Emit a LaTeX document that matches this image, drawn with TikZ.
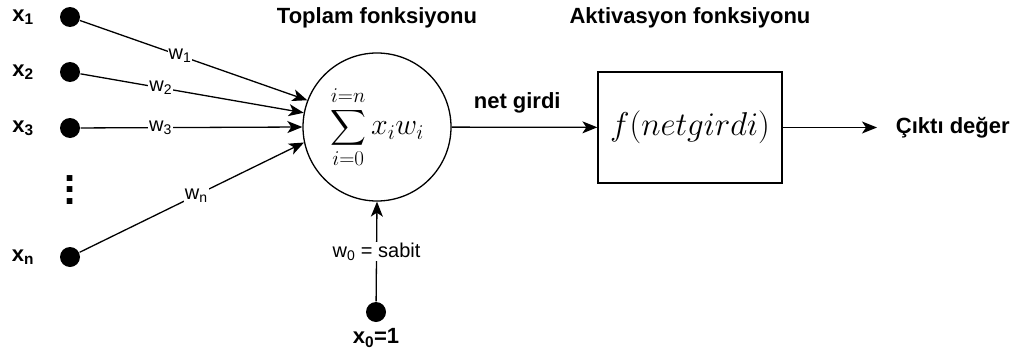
\RequirePackage{fix-cm}
\documentclass[tikz,border=0pt]{standalone}
\usepackage{amsmath}
\usepackage{fontspec}
\setmainfont{Liberation Sans}
\usetikzlibrary{arrows.meta}

\begin{document}
\begin{tikzpicture}[x=1pt,y=-1pt,>={Stealth[length=15pt,width=12pt,inset=4pt]},line width=1.3pt]
    \tikzset{
        dot/.style={circle,fill=black,inner sep=0pt,minimum size=20pt},
        lbl/.style={font=\fontsize{20}{24}\selectfont},
        bold/.style={font=\bfseries\fontsize{22}{26}\selectfont},
        wlbl/.style={lbl,fill=white,inner sep=1pt},
        sumnode/.style={draw,circle,minimum size=148pt,inner sep=0pt},
        actbox/.style={draw,minimum width=184pt,minimum height=111pt},
        flow/.style={->}
    }
    \useasboundingbox (0,0) rectangle (1016,356);

    \node[bold,anchor=base] (sum-title) at (377,23) {Toplam fonksiyonu};
    \node[bold,anchor=base] (act-title) at (690,23) {Aktivasyon fonksiyonu};

    \node[dot] (x1) at (70,17) {};
    \node[dot] (x2) at (70,72) {};
    \node[dot] (x3) at (70,128) {};
    \node[dot] (xn) at (70,257) {};
    \node[dot] (x0) at (376,312) {};

    \node[bold] (x1-lbl) at (23,17) {x\textsubscript{1}};
    \node[bold] (x2-lbl) at (23,72) {x\textsubscript{2}};
    \node[bold] (x3-lbl) at (23,128) {x\textsubscript{3}};
    \node[bold] (xn-lbl) at (23,257) {x\textsubscript{n}};
    \node[bold] (x0-lbl) at (376,338) {x\textsubscript{0}=1};
    \node[font=\bfseries\fontsize{40}{11.5}\selectfont,align=center,inner sep=0pt]
        (vdots) at (70,190) {.\\.\\.};

    \node[sumnode] (sum) at (377,127)
        {\fontsize{30}{34}\selectfont$\displaystyle\sum_{i=0}^{i=n} x_i w_i$};
    \node[actbox] (act) at (690,127.5)
        {\fontsize{33}{38}\selectfont$f(netgirdi)$};
    \coordinate (out-end) at (877,127.5);
    \node[bold,anchor=west] (out-lbl) at (892,127.5) {Çıktı değer};

    \draw[flow] (x1) -- node[wlbl,pos=0.44] {w\textsubscript{1}} (sum.159);
    \draw[flow] (x2) -- node[wlbl,pos=0.36] {w\textsubscript{2}} (sum.169);
    \draw[flow] (x3) -- node[wlbl,pos=0.36] {w\textsubscript{3}} (sum.west);
    \draw[flow] (xn) -- node[wlbl,pos=0.52] {w\textsubscript{n}} (sum.192);
    \draw[flow] (x0) -- node[wlbl] {w\textsubscript{0} = sabit} (sum.south);
    \draw[flow] (sum) -- node[bold,above=10pt,pos=0.45] {net girdi} (act);
    \draw[flow] (act) -- (out-end);
\end{tikzpicture}
\end{document}
